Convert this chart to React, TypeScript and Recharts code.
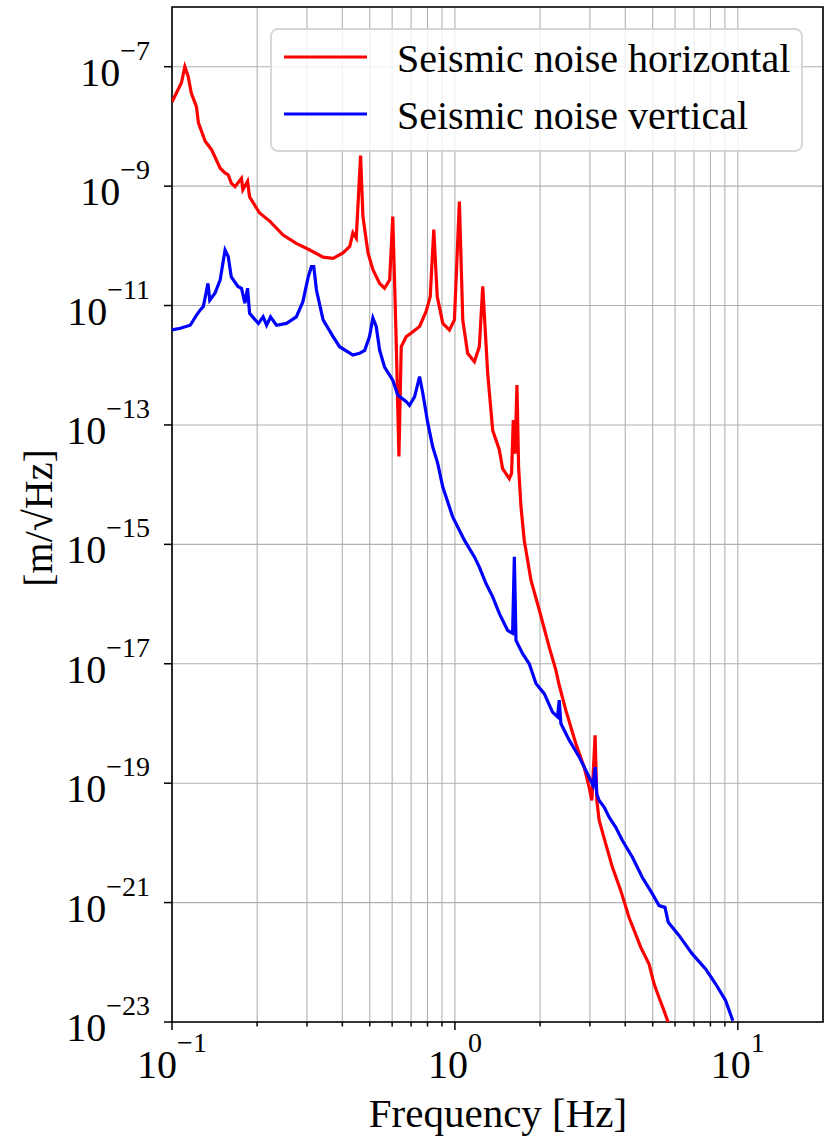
import React from "react";
import {
  CartesianGrid,
  Label,
  Legend,
  Line,
  LineChart,
  ReferenceArea,
  XAxis,
  YAxis,
} from "recharts";

// frequencies in Hz, amplitudes as log10 of m/sqrt(Hz)
const horizontalFreq = [
  0.1, 0.108, 0.111, 0.114, 0.117, 0.12, 0.122, 0.124, 0.131, 0.138, 0.148, 0.154, 0.158, 0.162,
  0.167, 0.176, 0.178, 0.185, 0.188, 0.204, 0.222, 0.247, 0.275, 0.307, 0.342, 0.371, 0.402, 0.425,
  0.436, 0.448, 0.464, 0.473, 0.493, 0.513, 0.542, 0.564, 0.588, 0.603, 0.62, 0.634, 0.646, 0.673,
  0.701, 0.75, 0.791, 0.818, 0.842, 0.866, 0.906, 0.956, 0.996, 1.037, 1.066, 1.109, 1.172, 1.22,
  1.254, 1.306, 1.36, 1.436, 1.474, 1.557, 1.586, 1.608, 1.631, 1.657, 1.679, 1.712, 1.758, 1.857,
  1.987, 2.154, 2.275, 2.337, 2.467, 2.676, 2.863, 2.982, 3.048, 3.13, 3.174, 3.234, 3.415, 3.604,
  3.857, 4.126, 4.539, 4.855, 5.056, 5.265, 5.483, 5.677,
];
const horizontalLog = [
  -7.59, -7.27, -7.0, -7.16, -7.44, -7.58, -7.67, -7.94, -8.25, -8.39, -8.7, -8.78, -8.81, -8.95,
  -9.01, -8.87, -9.06, -8.92, -9.18, -9.45, -9.59, -9.82, -9.96, -10.07, -10.19, -10.21, -10.12,
  -10.01, -9.78, -9.87, -8.49, -9.51, -10.12, -10.4, -10.63, -10.71, -10.57, -9.51, -11.58, -13.53,
  -11.69, -11.52, -11.46, -11.35, -11.1, -10.85, -9.73, -10.85, -11.3, -11.41, -11.24, -9.26,
  -11.24, -11.8, -11.94, -11.69, -10.68, -12.14, -13.09, -13.42, -13.73, -13.9, -13.81, -12.92,
  -13.48, -12.33, -13.7, -14.37, -14.93, -15.6, -16.1, -16.72, -17.11, -17.36, -17.78, -18.34,
  -18.73, -19.07, -19.29, -18.2, -19.29, -19.62, -20.02, -20.41, -20.8, -21.25, -21.75, -22.03,
  -22.36, -22.59, -22.81, -23.01,
];

const verticalFreq = [
  0.1, 0.107, 0.116, 0.121, 0.126, 0.129, 0.134, 0.136, 0.142, 0.148, 0.154, 0.158, 0.162, 0.171,
  0.176, 0.181, 0.185, 0.188, 0.202, 0.21, 0.216, 0.223, 0.234, 0.254, 0.275, 0.29, 0.303, 0.311,
  0.317, 0.324, 0.342, 0.371, 0.391, 0.436, 0.46, 0.48, 0.499, 0.513, 0.527, 0.542, 0.564, 0.603,
  0.628, 0.673, 0.691, 0.72, 0.75, 0.77, 0.802, 0.835, 0.869, 0.906, 0.982, 1.08, 1.172, 1.22,
  1.289, 1.36, 1.436, 1.535, 1.599, 1.622, 1.644, 1.735, 1.831, 1.934, 2.069, 2.213, 2.305, 2.337,
  2.369, 2.535, 2.75, 2.982, 3.08, 3.13, 3.174, 3.234, 3.368, 3.508, 3.703, 3.909, 4.24, 4.597,
  4.985, 5.265, 5.527, 5.677, 6.194, 6.901, 7.691, 8.342, 9.05, 9.603,
];
const verticalLog = [
  -11.41, -11.38, -11.33, -11.19, -11.07, -11.02, -10.63, -10.91, -10.79, -10.57, -10.07, -10.18,
  -10.52, -10.68, -10.71, -10.96, -10.71, -11.13, -11.3, -11.19, -11.33, -11.19, -11.33, -11.3,
  -11.19, -10.94, -10.52, -10.35, -10.35, -10.74, -11.24, -11.52, -11.69, -11.83, -11.8, -11.75,
  -11.52, -11.21, -11.35, -11.75, -12.03, -12.25, -12.5, -12.61, -12.67, -12.53, -12.19, -12.47,
  -12.97, -13.37, -13.64, -14.04, -14.54, -14.93, -15.21, -15.38, -15.66, -15.88, -16.16, -16.44,
  -16.49, -15.21, -16.61, -16.83, -17.0, -17.33, -17.5, -17.81, -17.89, -17.61, -18.0, -18.28,
  -18.56, -18.9, -19.04, -18.73, -19.18, -19.29, -19.4, -19.57, -19.74, -19.96, -20.24, -20.58,
  -20.85, -21.05, -21.08, -21.33, -21.55, -21.86, -22.11, -22.36, -22.64, -22.98,
];

const xDecades = [-1, 0, 1];
const yTickExponents = [-23, -21, -19, -17, -15, -13, -11, -9, -7];
const seriesNames = ["Seismic noise horizontal", "Seismic noise vertical"];
const seriesColors = ["#ff0000", "#0000ff"];

const X_MIN = -1;
const X_MAX = Math.log10(20);
const FONT = '"Liberation Serif", "Times New Roman", serif';

const toPoints = (freq: number[], logs: number[]) =>
  freq.map((f, i) => ({ x: Math.log10(f), y: logs[i] }));

const horizontalData = toPoints(horizontalFreq, horizontalLog);
const verticalData = toPoints(verticalFreq, verticalLog);

const xTicks: number[] = [];
xDecades.forEach((d) => {
  for (let k = 1; k <= 9; k++) {
    const v = d + Math.log10(k);
    if (v < X_MAX - 0.005) xTicks.push(v);
  }
});

const fmtExp = (n: number) => (n < 0 ? `\u2212${Math.abs(n)}` : `${n}`);

const XTick = (props: any) => {
  const { x, y, payload } = props;
  const v = payload.value as number;
  const major = Math.abs(v - Math.round(v)) < 1e-6;
  return (
    <g>
      <line x1={x} x2={x} y1={y} y2={y + (major ? 8 : 4.5)} stroke="#000" strokeWidth={1.5} />
      {major && (
        <text x={x} y={y + 56} textAnchor="middle" fontFamily={FONT} fontSize={40} fill="#000">
          10
          <tspan dy={-26} fontSize={28}>
            {fmtExp(Math.round(v))}
          </tspan>
        </text>
      )}
    </g>
  );
};

const YTick = (props: any) => {
  const { x, y, payload } = props;
  return (
    <g>
      <line x1={x - 8} x2={x} y1={y} y2={y} stroke="#000" strokeWidth={1.5} />
      <text x={x - 22} y={y + 19} textAnchor="end" fontFamily={FONT} fontSize={40} fill="#000">
        10
        <tspan dy={-26} fontSize={28}>
          {fmtExp(payload.value)}
        </tspan>
      </text>
    </g>
  );
};

const LegendBox = () => (
  <svg width={533} height={124} style={{ display: "block" }}>
    <rect
      x={1}
      y={1}
      width={531}
      height={122}
      rx={7}
      fill="rgba(255,255,255,0.8)"
      stroke="#d4d4d4"
      strokeWidth={1.8}
    />
    {seriesNames.map((name, i) => (
      <g key={name}>
        <line
          x1={14}
          x2={97}
          y1={29 + i * 57}
          y2={29 + i * 57}
          stroke={seriesColors[i]}
          strokeWidth={3.2}
        />
        <text x={127} y={44 + i * 57} fontFamily={FONT} fontSize={40} fill="#000">
          {name}
        </text>
      </g>
    ))}
  </svg>
);

export default function App() {
  return (
    <div style={{ position: "absolute", left: 0, top: 0, background: "#fff" }}>
      <LineChart width={831} height={1144} margin={{ top: 7, right: 8, left: 0, bottom: 0 }}>
        <CartesianGrid stroke="#b0b0b0" strokeWidth={1.1} />
        <XAxis
          dataKey="x"
          type="number"
          domain={[X_MIN, X_MAX]}
          ticks={xTicks}
          interval={0}
          allowDataOverflow
          axisLine={false}
          tickLine={false}
          tickSize={0}
          tickMargin={0}
          tick={<XTick />}
          height={122}
        >
          <Label
            content={() => (
              <text x={498} y={1127} textAnchor="middle" fontFamily={FONT} fontSize={41} fill="#000">
                Frequency [Hz]
              </text>
            )}
          />
        </XAxis>
        <YAxis
          dataKey="y"
          type="number"
          domain={[-23, -6]}
          ticks={yTickExponents}
          interval={0}
          allowDataOverflow
          axisLine={false}
          tickLine={false}
          tickSize={0}
          tickMargin={0}
          tick={<YTick />}
          width={172}
        >
          <Label
            content={() => (
              <text
                x={52}
                y={518}
                transform="rotate(-90 52 518)"
                textAnchor="middle"
                fontFamily={FONT}
                fontSize={40}
                fill="#000"
              >
                [m/√Hz]
              </text>
            )}
          />
        </YAxis>
        <Line
          data={horizontalData}
          dataKey="y"
          name={seriesNames[0]}
          type="linear"
          stroke={seriesColors[0]}
          strokeWidth={3.2}
          dot={false}
          isAnimationActive={false}
        />
        <Line
          data={verticalData}
          dataKey="y"
          name={seriesNames[1]}
          type="linear"
          stroke={seriesColors[1]}
          strokeWidth={3.2}
          dot={false}
          isAnimationActive={false}
        />
        <ReferenceArea
          x1={X_MIN}
          x2={X_MAX}
          y1={-23}
          y2={-6}
          fill="none"
          stroke="#000"
          strokeWidth={1.6}
          fillOpacity={0}
        />
        <Legend
          layout="vertical"
          align="center"
          verticalAlign="middle"
          content={() => <LegendBox />}
          wrapperStyle={{ position: "absolute", left: 270, top: 28, width: 533, height: 124 }}
        />
      </LineChart>
    </div>
  );
}
